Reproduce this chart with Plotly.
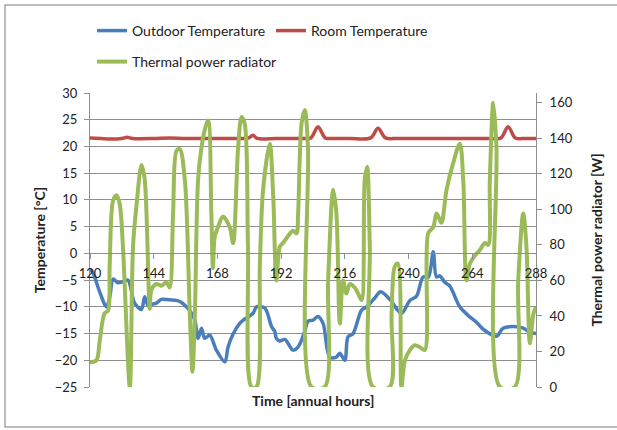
import plotly.graph_objects as go

# ---------------- data ----------------
out_hours = [120, 121, 123.5, 126.2, 127.5, 128.7, 130.5, 132.4, 134.3, 136.8, 139.4, 140.6, 141.9, 143.5,
             145, 146.9, 150, 152.6, 154.5, 156.3, 158, 159.5, 160.7, 162, 163.2, 165.1, 167.6, 170.8, 172,
             174, 176.4, 177.7, 181.4, 182.7, 185.8, 188.4, 189.6, 190.2, 191.5, 193.4, 196.5, 198.4, 200.9,
             202.1, 204, 205.9, 207.8, 210.3, 212.8, 214.1, 216, 217.2, 219.1, 222.3, 224.2, 227, 229.5,
             232.9, 237.3, 240.5, 243, 245.5, 247.4, 249.3, 250.5, 251.8, 253.6, 255.5, 259.3, 262.4, 265.6,
             268.1, 273.1, 275.6, 279.4, 283.2, 285.7, 288]
out_temp = [-3, -3.5, -7, -10, -8, -4.8, -5.5, -5.3, -5, -9.3, -10.5, -8.1, -9.8, -9.5,
            -9.3, -8.6, -8.7, -8.8, -9.2, -10, -11, -12.5, -15.9, -14, -15.9, -15.3, -18.1, -20.3, -17.5,
            -15, -13.1, -12.5, -11.2, -10, -10.2, -13.7, -14.6, -15.9, -16.4, -16.1, -18.1, -17.5, -14.6,
            -12.7, -12.5, -11.8, -13.1, -19.4, -19.4, -18.7, -20, -15.6, -15, -10.6, -10, -8.5, -7.2,
            -8.6, -11.2, -8.8, -8, -4.4, -4.5, 0.3, -4.4, -4.2, -5.4, -6.1, -10, -11.6, -12.9,
            -14.2, -15.5, -14, -13.7, -14, -14.8, -15]

room_hours = [120, 124, 128, 132, 134, 136, 144, 150, 156, 164, 172, 178, 179.8, 181.4, 183, 190, 200,
              203.2, 205.9, 208.6, 212, 218, 225.7, 228.5, 231.3, 236, 250, 260, 270, 274.8, 277.5, 280.2,
              284, 288]
room_temp = [21.6, 21.5, 21.4, 21.5, 21.7, 21.5, 21.5, 21.6, 21.5, 21.5, 21.5, 21.5, 21.6, 22.1, 21.5,
             21.5, 21.5, 21.6, 23.7, 21.6, 21.5, 21.5, 21.6, 23.4, 21.6, 21.5, 21.5, 21.5, 21.5, 21.6, 23.7,
             21.6, 21.5, 21.5]

pow_hours = [120, 122.4, 123.7, 125.5, 126.8, 127.4, 128.7, 130, 131.2, 132.4, 135, 136.2, 137.5, 139.4,
             140.6, 142.5, 143.1, 145, 146.9, 148.8, 150, 151.3, 152.6, 153.8, 155.7, 157.6, 158.6, 159.5,
             160.7, 162, 163.2, 164.5, 165.7, 166.3, 167, 168.2, 170.1, 172.6, 173.9, 175.8, 177.1, 178.3,
             179.5, 180.8, 182.7, 184, 185.2, 187.7, 189, 190.2, 191.5, 192.7, 194.6, 196.5, 197.8, 198.4,
             199.7, 200.9, 202.1, 203.4, 208.4, 209.7, 211.6, 212.8, 214.1, 215.3, 216.6, 217.9, 219.7, 221,
             222.3, 223.5, 224.4, 225.4, 226.6, 232.9, 233.6, 234.8, 236, 237.3, 238.6, 240.5, 242.3, 244.2,
             246.1, 247.4, 249.3, 250.5, 251.2, 252.4, 254.3, 256.8, 259.3, 260.6, 261.8, 263.1, 265, 266.8,
             268.7, 270, 270.6, 271.9, 273.1, 274.4, 280, 281.3, 283.2, 284.4, 285.7, 287, 288]
pow_watt = [14, 15, 26.5, 41.5, 43, 67.8, 105, 108, 103, 79, 0, 79, 102, 125,
            117, 44, 54.5, 58, 57, 59, 56, 97.7, 133, 134, 117, 41, 8.6, 41,
            116.5, 135, 144.6, 150, 98, 67, 84.7, 90, 96, 90, 81, 135, 152, 148,
            79, 0, 0, 69.5, 111, 137, 108, 60, 79, 81, 85, 88, 86.5, 98,
            148.5, 156, 135, 0, 0, 60, 111, 98, 35.7, 60, 52.6, 58, 56, 52.6,
            49, 117, 124, 79, 0, 0, 41, 67.8, 69.5, 0, 15, 20.8, 23.5, 22.5,
            20.8, 86.6, 90, 97.7, 96, 92.4, 111, 126, 137, 116, 60, 69.5, 74, 77,
            81, 80, 116, 160, 135, 0, 0, 60, 97.7, 79, 24.6, 41, 45]

x_ticks = [120, 144, 168, 192, 216, 240, 264, 288]
y_ticks = list(range(-25, 31, 5))
y2_ticks = list(range(0, 161, 20))

# ---------------- figure ----------------
FONT = "Lato, 'Open Sans', sans-serif"
GRID = "#8e8e8e"

fig = go.Figure()
fig.add_trace(go.Scatter(x=out_hours, y=out_temp, name="Outdoor Temperature", mode="lines",
                         line=dict(color="#4A7EBB", width=3.5, shape="spline", smoothing=0.9),
                         legend="legend"))
fig.add_trace(go.Scatter(x=room_hours, y=room_temp, name="Room Temperature", mode="lines",
                         line=dict(color="#BE4B48", width=3.5, shape="spline", smoothing=0.9),
                         legend="legend"))
fig.add_trace(go.Scatter(x=pow_hours, y=pow_watt, name="Thermal power radiator", mode="lines",
                         line=dict(color="#9BBB59", width=4, shape="spline", smoothing=0.9),
                         yaxis="y2", legend="legend2"))

L, R, T, B = 90, 81, 93, 43
W, H = 617 - L - R, 430 - T - B

def px_x(v):
    return (v - L) / W

def px_y(v):
    return (430 - B - v) / H

fig.update_layout(
    width=617, height=430,
    margin=dict(l=L, r=R, t=T, b=B, autoexpand=False),
    paper_bgcolor="white", plot_bgcolor="white",
    font=dict(family=FONT, size=14, color="#222222"),
    xaxis=dict(range=[120, 288], tickvals=x_ticks, ticktext=[str(v) for v in x_ticks],
               showgrid=False, zeroline=False, showline=True, linecolor=GRID, linewidth=1,
               ticks="outside", ticklen=5, tickcolor=GRID, ticklabelstandoff=3,
               anchor="free", position=25 / 55, tickfont=dict(size=13)),
    yaxis=dict(range=[-25, 30], tickvals=y_ticks, showgrid=True, gridcolor=GRID, gridwidth=1,
               zeroline=False, showline=True, linecolor=GRID, linewidth=1,
               ticks="outside", ticklen=5, tickcolor=GRID, ticklabelstandoff=4,
               tickfont=dict(size=13),
               title=dict(text="<b>Temperature [°C]</b>", font=dict(size=14), standoff=5)),
    yaxis2=dict(range=[0, 165.5], tickvals=y2_ticks, overlaying="y", side="right",
                showgrid=False, zeroline=False, showline=True, linecolor=GRID, linewidth=1,
                ticks="outside", ticklen=5, tickcolor=GRID, ticklabelstandoff=5,
                tickfont=dict(size=13),
                title=dict(text="<b>Thermal power radiator [W]</b>", font=dict(size=14), standoff=20)),
    legend=dict(orientation="h", x=px_x(92), y=px_y(31), xanchor="left", yanchor="middle",
                font=dict(size=14), bgcolor="rgba(0,0,0,0)", entrywidth=134, itemwidth=30),
    legend2=dict(orientation="h", x=px_x(92), y=px_y(62), xanchor="left", yanchor="middle",
                 font=dict(size=14), bgcolor="rgba(0,0,0,0)", itemwidth=30),
    showlegend=True,
)

fig.add_annotation(text="<b>Time [annual hours]</b>", xref="paper", yref="paper",
                   x=0.5, y=px_y(400), xanchor="center", yanchor="middle", showarrow=False,
                   font=dict(size=14))

fig.add_shape(type="rect", xref="paper", yref="paper",
              x0=px_x(5), x1=px_x(622), y0=px_y(427), y1=px_y(5),
              line=dict(color="#a6a6a6", width=1.5), layer="below")

fig.write_html("out.html", config={"displayModeBar": False},
               post_script="document.body.style.margin='0px';document.body.style.padding='0px';")
